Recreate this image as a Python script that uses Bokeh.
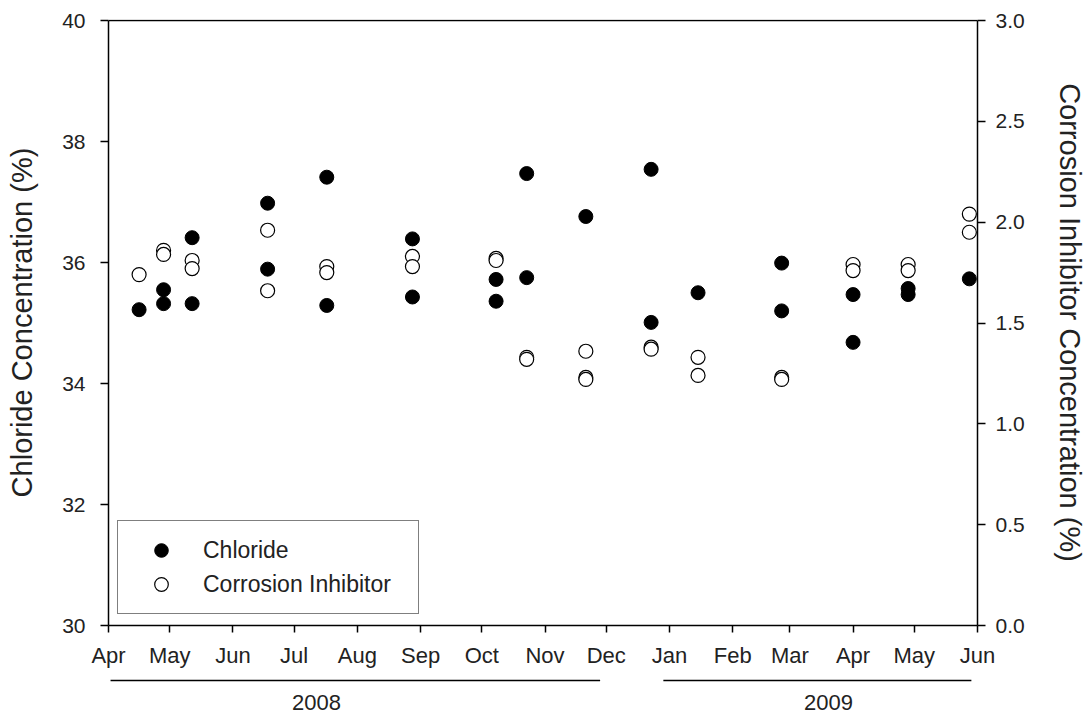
import pandas as pd
from bokeh.plotting import figure
from bokeh.models import (Range1d, LinearAxis, Span, Legend, LegendItem, MonthsTicker,
                          DatetimeTickFormatter, NumeralTickFormatter, FixedTicker)
from bokeh.layouts import column
from bokeh.embed import file_html
from bokeh.resources import INLINE
from bokeh.core.properties import value

# ---------------- data ----------------
chloride_dates = ["2008-04-16", "2008-04-28", "2008-04-28", "2008-05-12", "2008-05-12",
                  "2008-06-18", "2008-06-18", "2008-07-17", "2008-07-17", "2008-08-28",
                  "2008-08-28", "2008-10-08", "2008-10-08", "2008-10-23", "2008-10-23",
                  "2008-11-21", "2008-12-23", "2008-12-23", "2009-01-15", "2009-02-25",
                  "2009-02-25", "2009-04-01", "2009-04-01", "2009-04-28", "2009-04-28",
                  "2009-05-28"]
chloride_values = [35.22, 35.55, 35.32, 36.41, 35.32,
                   36.98, 35.89, 37.41, 35.29, 36.39,
                   35.43, 35.72, 35.36, 37.47, 35.75,
                   36.76, 37.54, 35.01, 35.50, 35.99,
                   35.20, 35.47, 34.68, 35.57, 35.47,
                   35.73]

inhibitor_dates = ["2008-04-16", "2008-04-28", "2008-04-28", "2008-05-12", "2008-05-12",
                   "2008-06-18", "2008-06-18", "2008-07-17", "2008-07-17", "2008-08-28",
                   "2008-08-28", "2008-10-08", "2008-10-08", "2008-10-23", "2008-10-23",
                   "2008-11-21", "2008-11-21", "2008-11-21", "2008-12-23", "2008-12-23",
                   "2009-01-15", "2009-01-15", "2009-02-25", "2009-02-25", "2009-04-01",
                   "2009-04-01", "2009-04-28", "2009-04-28", "2009-05-28", "2009-05-28"]
inhibitor_values = [1.74, 1.86, 1.84, 1.81, 1.77,
                    1.96, 1.66, 1.78, 1.75, 1.83,
                    1.78, 1.82, 1.81, 1.33, 1.32,
                    1.36, 1.23, 1.22, 1.38, 1.37,
                    1.33, 1.24, 1.23, 1.22, 1.79,
                    1.76, 1.79, 1.76, 2.04, 1.95]

chloride_ticks = [30, 32, 34, 36, 38, 40]
inhibitor_ticks = [0.0, 0.5, 1.0, 1.5, 2.0, 2.5, 3.0]
x_start, x_end = "2008-04-01", "2009-06-01"

year_labels = ["2008", "2009"]
year_label_dates = ["2008-07-12", "2009-03-20"]
year_line_starts = ["2008-04-02", "2008-12-29"]
year_line_ends = ["2008-11-28", "2009-05-29"]

# ---------------- styling ----------------
FONT = "Liberation Sans"
TXT = "#222222"
AXIS_PX = 605  # pixels between bottom and top tick

def ts(lst):
    return [pd.Timestamp(d) for d in lst]

xr = Range1d(pd.Timestamp(x_start), pd.Timestamp(x_end))
left_pp = AXIS_PX / (chloride_ticks[-1] - chloride_ticks[0])
right_pp = AXIS_PX / (inhibitor_ticks[-1] - inhibitor_ticks[0])

p = figure(width=1088, height=670, x_axis_type="datetime", x_range=xr,
           y_range=Range1d(chloride_ticks[0], chloride_ticks[-1] + 1 / left_pp),
           output_backend="svg", toolbar_location=None,
           min_border_left=108, min_border_right=111, min_border_top=19, min_border_bottom=45)
p.extra_y_ranges = {"ci": Range1d(inhibitor_ticks[0], inhibitor_ticks[-1] + 1 / right_pp)}
p.outline_line_color = None
p.grid.grid_line_color = None
p.background_fill_color = "white"
p.border_fill_color = "white"

# x axis (months)
xa = p.xaxis[0]
xa.ticker = MonthsTicker(months=list(range(12)))
xa.formatter = DatetimeTickFormatter(months="%b", days="%b", years="%b")
xa.major_tick_out = 7
xa.major_tick_in = 0
xa.minor_tick_out = 0
xa.minor_tick_in = 0
xa.axis_line_width = 1.5
xa.major_tick_line_width = 1.5
xa.major_label_text_font = FONT
xa.major_label_text_font_size = "22px"
xa.major_label_text_color = TXT
xa.major_label_standoff = 10

# left axis
ya = p.yaxis[0]
ya.ticker = FixedTicker(ticks=chloride_ticks)
ya.bounds = (chloride_ticks[0], chloride_ticks[-1])
ya.axis_label = "Chloride Concentration (%)"
ya.axis_label_text_font = FONT
ya.axis_label_text_font_size = "29px"
ya.axis_label_text_font_style = "normal"
ya.axis_label_text_color = TXT
ya.axis_label_standoff = 21
ya.major_label_text_font = FONT
ya.major_label_text_font_size = "21px"
ya.major_label_text_color = TXT
ya.major_label_standoff = 15
ya.major_tick_out = 8
ya.major_tick_in = 0
ya.minor_tick_out = 0
ya.minor_tick_in = 0
ya.axis_line_width = 1.5
ya.major_tick_line_width = 1.5

# right axis
ra = LinearAxis(y_range_name="ci", ticker=FixedTicker(ticks=inhibitor_ticks),
                formatter=NumeralTickFormatter(format="0.0"),
                bounds=(inhibitor_ticks[0], inhibitor_ticks[-1]),
                axis_label="Corrosion Inhibitor Concentration (%)")
ra.axis_label_text_font = FONT
ra.axis_label_text_font_size = "29px"
ra.axis_label_text_font_style = "normal"
ra.axis_label_text_color = TXT
ra.axis_label_standoff = 26
ra.major_label_text_font = FONT
ra.major_label_text_font_size = "21px"
ra.major_label_text_color = TXT
ra.major_label_standoff = 10
ra.major_tick_out = 8
ra.major_tick_in = 0
ra.minor_tick_out = 0
ra.minor_tick_in = 0
ra.axis_line_width = 1.5
ra.major_tick_line_width = 1.5
p.add_layout(ra, "right")

# top border line
p.add_layout(Span(location=chloride_ticks[-1], dimension="width",
                  line_color="black", line_width=1.5))

ch = p.scatter(x=ts(chloride_dates), y=chloride_values, size=14, marker="circle",
               fill_color="black", line_color="black", line_width=1)
ci = p.scatter(x=ts(inhibitor_dates), y=inhibitor_values, y_range_name="ci", size=14,
               marker="circle", fill_color="white", line_color="black", line_width=1.2)

legend = Legend(items=[LegendItem(label="Chloride", renderers=[ch]),
                       LegendItem(label="Corrosion Inhibitor", renderers=[ci])],
                location=(9, 11), margin=0, padding=12, spacing=0,
                glyph_height=34, glyph_width=62, label_height=34, label_width=203,
                label_standoff=11, label_text_font=FONT, label_text_font_size="23px",
                label_text_color=TXT,
                border_line_color="black", border_line_width=1.5,
                background_fill_color="white", background_fill_alpha=1.0)
p.add_layout(legend, "center")

# ---------------- year strip ----------------
p2 = figure(width=1088, height=45, x_range=xr, y_range=Range1d(0, 45),
            x_axis_location=None, y_axis_location=None,
            output_backend="svg", toolbar_location=None,
            min_border_left=108, min_border_right=111, min_border_top=0, min_border_bottom=0)
p2.outline_line_color = None
p2.grid.grid_line_color = None
p2.segment(x0=ts(year_line_starts), y0=35, x1=ts(year_line_ends), y1=35,
           line_color="black", line_width=1.5)
p2.text(x=ts(year_label_dates), y=13, text=year_labels, text_font=value(FONT),
        text_font_size="22px", text_align="center", text_baseline="middle",
        text_color=TXT)

layout = column(p, p2, spacing=0)

open("out.html", "w").write(file_html(layout, INLINE))
